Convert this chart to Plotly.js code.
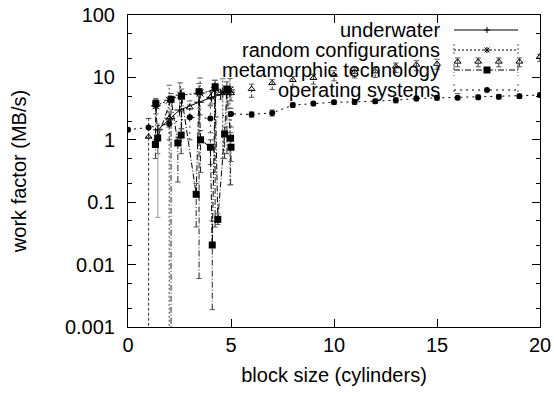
<!DOCTYPE html>
<html>
<head>
<meta charset="utf-8">
<script src="https://cdn.plot.ly/plotly-3.0.1.min.js"></script>
<style>html,body{margin:0;padding:0;background:#fff;}#chart{width:554px;height:393px;}</style>
</head>
<body>
<div id="chart"></div>
<script>
// ---------- data ----------
const xTicks = [0, 5, 10, 15, 20];
const xTickText = ['0', '5', '10', '15', '20'];
const yTicks = [0.001, 0.01, 0.1, 1, 10, 100];
const yTickText = ['0.001', '0.01', '0.1', '1', '10', '100'];
const yMinorTicks = [0.002, 0.005, 0.02, 0.05, 0.2, 0.5, 2, 5, 20, 50];

const seriesNames = ['underwater', 'random configurations', 'metamorphic technology', 'operating systems'];

// underwater
const uwX  = [1.45, 2.05, 2.5, 3.45, 4.05, 4.5, 4.95];
const uwY  = [1.45, 2.2, 3.0, 4.0, 4.8, 5.3, 5.8];
const uwLo = [0.057, 1.8, 2.4, 3.2, 3.8, 4.4, 4.8];
const uwHi = [1.8, 2.8, 8.2, 5.0, 6.0, 6.5, 7.0];

// random configurations
const rcX  = [1.35, 2.0, 2.55, 3.5, 4.2, 4.6, 4.95];
const rcY  = [3.5, 4.3, 5.2, 5.6, 6.2, 5.8, 6.3];
const rcLo = [2.6, 0.0005, 2.8, 2.5, 0.3, 0.5, 0.19];
const rcHi = [4.6, 7.5, 8.2, 9.8, 9.0, 9.5, 9.6];

// metamorphic technology
const mtX  = [1.33, 1.35, 1.44, 2.09, 2.42, 2.58, 2.6, 3.31, 3.45, 3.52, 4.0, 4.09, 4.23, 4.36, 4.69, 4.8, 4.98, 5.0];
const mtY  = [0.84, 3.8, 1.07, 4.45, 0.89, 1.19, 5.0, 0.134, 5.9, 1.0, 0.76, 0.0206, 7.1, 0.053, 1.24, 6.5, 1.06, 0.76];
const mtLo = [0.5, 3.2, 0.6, 0.0005, 0.21, 0.6, 1.5, 0.04, 0.006, 0.3, 0.4, 0.0019, 0.04, 0.044, 0.5, 0.6, 0.19, 0.45];
const mtHi = [1.0, 4.4, 1.4, 5.5, 1.1, 1.5, 6.5, 0.2, 8.0, 1.4, 1.0, 0.05, 9.0, 0.065, 1.6, 8.5, 1.3, 1.0];

// operating systems
const osX  = [0, 1, 2, 3, 4, 5, 6, 7, 8, 9, 10, 11, 12, 13, 14, 15, 16, 17, 18, 19, 20];
const osY  = [1.45, 1.58, 1.8, 2.3, 2.2, 2.6, 2.55, 2.7, 3.6, 3.8, 4.0, 4.05, 4.15, 4.3, 4.6, 4.7, 4.7, 4.8, 4.9, 5.0, 5.2];
const osLo = [1.4, 1.1, 1.0, 1.0, 1.3, 1.6, 2.3, 2.4, 3.3, 3.5, 3.7, 3.7, 3.8, 3.9, 4.2, 4.3, 4.4, 4.4, 4.5, 4.6, 4.8];
const osHi = [1.5, 2.2, 2.8, 3.6, 3.5, 3.2, 2.8, 3.0, 3.9, 4.1, 4.3, 4.4, 4.5, 4.7, 5.0, 5.1, 5.5, 5.2, 5.3, 5.4, 5.6];

// unlabelled triangle points
const trX  = [1, 2, 3, 4, 5, 6, 7, 8, 9, 10, 11, 12, 13, 14, 15, 16, 17, 18, 19, 20];
const trY  = [1.12, 2.2, 3.3, 4.8, 5.6, 6.5, 8.1, 9.1, 9.8, 11.0, 12.3, 12.5, 15.0, 16.0, 16.5, 17.9, 17.9, 17.9, 17.9, 21.5];
const trLo = [0.0005, 1.6, 2.4, 3.6, 4.2, 4.8, 6.4, 7.2, 7.8, 8.8, 9.8, 10.0, 12.0, 12.8, 13.5, 14.8, 14.8, 14.8, 14.8, 18.0];
const trHi = [2.2, 2.8, 4.2, 6.0, 7.0, 7.8, 9.2, 10.4, 11.2, 12.8, 14.2, 14.5, 17.0, 18.5, 19.5, 20.5, 20.5, 20.5, 20.5, 23.5];

// ---------- styling ----------
const FONT = 'Liberation Sans, Arial, Helvetica, sans-serif';
const M = {l: 128, r: 14, t: 15, b: 66};
const PW = 554 - M.l - M.r, PH = 393 - M.t - M.b;
const CAP = 0.13; // half cap width in x units

function bars(x, lo, hi) {
  const xs = [], ys = [];
  for (let i = 0; i < x.length; i++) { xs.push(x[i], x[i], null); ys.push(lo[i], hi[i], null); }
  return {xs, ys};
}
function caps(x, lo, hi) {
  const xs = [], ys = [];
  for (let i = 0; i < x.length; i++) {
    xs.push(x[i] - CAP, x[i] + CAP, null, x[i] - CAP, x[i] + CAP, null);
    ys.push(lo[i], lo[i], null, hi[i], hi[i], null);
  }
  return {xs, ys};
}
function barTrace(x, lo, hi, dash, color) {
  const b = bars(x, lo, hi);
  return {x: b.xs, y: b.ys, mode: 'lines', line: {color: color, width: 1, dash: dash}, hoverinfo: 'skip', showlegend: false};
}
function capTrace(x, lo, hi, color) {
  const c = caps(x, lo, hi);
  return {x: c.xs, y: c.ys, mode: 'lines', line: {color: color, width: 1}, hoverinfo: 'skip', showlegend: false};
}

const DASH_RC = '2px,2px';
const DASH_MT = '6px,2px,1px,2px';
const DASH_OS = '2px,4px';
const DASH_TR = '3px,2px';

const traces = [
  barTrace(trX, trLo, trHi, DASH_TR, '#333'), capTrace(trX, trLo, trHi, '#555'),
  barTrace(mtX, mtLo, mtHi, DASH_MT, '#222'), capTrace(mtX, mtLo, mtHi, '#555'),
  barTrace(rcX, rcLo, rcHi, DASH_RC, '#444'), capTrace(rcX, rcLo, rcHi, '#666'),
  barTrace(osX, osLo, osHi, DASH_OS, '#333'), capTrace(osX, osLo, osHi, '#555'),
  barTrace(uwX, uwLo, uwHi, 'solid', '#999'), capTrace(uwX, uwLo, uwHi, '#999'),
  {name: 'triangles', x: trX, y: trY, mode: 'markers', showlegend: false,
   marker: {symbol: 'triangle-up-open', size: 6, color: '#000', line: {width: 1, color: '#000'}}},
  {name: seriesNames[2], x: mtX, y: mtY, mode: 'lines+markers', showlegend: false,
   line: {color: '#000', width: 1, dash: DASH_MT}, marker: {symbol: 'square', size: 7, color: '#000'}},
  {name: seriesNames[1], x: rcX, y: rcY, mode: 'lines+markers', showlegend: false,
   line: {color: '#000', width: 1, dash: DASH_RC}, marker: {symbol: 'asterisk-open', size: 8, color: '#000', line: {width: 1, color: '#000'}}},
  {name: seriesNames[3], x: osX, y: osY, mode: 'lines+markers', showlegend: false,
   line: {color: '#000', width: 1, dash: DASH_OS}, marker: {symbol: 'circle', size: 6, color: '#000'}},
  {name: seriesNames[0], x: uwX, y: uwY, mode: 'lines+markers', showlegend: false,
   line: {color: '#000', width: 1, dash: 'solid'}, marker: {symbol: 'cross-thin-open', size: 7, color: '#000', line: {width: 1, color: '#000'}}}
];

// ---------- hand-made gnuplot style key ----------
const keyRowsPx = [30, 50, 70, 90];     // y pixel centres of key rows
const keyTextRightPx = 442;
const keySampleL = 454, keySampleR = 518, keyMarkPx = 487;
const px2x = p => (p - M.l) / PW;
const px2y = p => (393 - M.b - p) / PH;
const keyDashPx = ['solid', DASH_RC, DASH_MT, DASH_OS];

const annotations = seriesNames.map((n, i) => ({
  text: n, xref: 'paper', yref: 'paper', x: px2x(keyTextRightPx), y: px2y(keyRowsPx[i]),
  xanchor: 'right', yanchor: 'middle', showarrow: false, font: {family: FONT, size: 20, color: '#000'}
}));

const shapes = [];
seriesNames.forEach((n, i) => {
  const yc = keyRowsPx[i];
  shapes.push({type: 'line', xref: 'paper', yref: 'paper', x0: px2x(keySampleL), x1: px2x(keySampleR), y0: px2y(yc), y1: px2y(yc),
    line: {color: '#000', width: 1, dash: keyDashPx[i]}});
  if (i > 0) {
    [keySampleL, keySampleR].forEach(xp => {
      shapes.push({type: 'line', xref: 'paper', yref: 'paper', x0: px2x(xp), x1: px2x(xp), y0: px2y(yc - 6), y1: px2y(yc + 6),
        line: {color: '#555', width: 1, dash: keyDashPx[i]}});
    });
  }
});
// key markers
const ky = keyRowsPx;
shapes.push({type: 'line', xref: 'paper', yref: 'paper', x0: px2x(keyMarkPx - 3), x1: px2x(keyMarkPx + 3), y0: px2y(ky[0]), y1: px2y(ky[0]), line: {color: '#000', width: 1}});
shapes.push({type: 'line', xref: 'paper', yref: 'paper', x0: px2x(keyMarkPx), x1: px2x(keyMarkPx), y0: px2y(ky[0] - 3), y1: px2y(ky[0] + 3), line: {color: '#000', width: 1}});
[[-3, 0, 3, 0], [0, -3, 0, 3], [-2.5, -2.5, 2.5, 2.5], [-2.5, 2.5, 2.5, -2.5]].forEach(d => {
  shapes.push({type: 'line', xref: 'paper', yref: 'paper', x0: px2x(keyMarkPx + d[0]), x1: px2x(keyMarkPx + d[2]),
    y0: px2y(ky[1] + d[1]), y1: px2y(ky[1] + d[3]), line: {color: '#000', width: 1}});
});
shapes.push({type: 'rect', xref: 'paper', yref: 'paper', x0: px2x(keyMarkPx - 3.5), x1: px2x(keyMarkPx + 3.5), y0: px2y(ky[2] - 3.5), y1: px2y(ky[2] + 3.5), fillcolor: '#000', line: {width: 0}});
shapes.push({type: 'circle', xref: 'paper', yref: 'paper', x0: px2x(keyMarkPx - 3), x1: px2x(keyMarkPx + 3), y0: px2y(ky[3] - 3), y1: px2y(ky[3] + 3), fillcolor: '#000', line: {width: 0}});

const layout = {
  width: 554, height: 393,
  margin: M,
  paper_bgcolor: '#fff', plot_bgcolor: '#fff',
  font: {family: FONT, size: 20, color: '#000'},
  showlegend: false,
  xaxis: {
    range: [0, 20], tickmode: 'array', tickvals: xTicks, ticktext: xTickText,
    ticks: 'inside', ticklen: 8, tickcolor: '#000', showline: true, linecolor: '#000', linewidth: 1, mirror: 'ticks',
    showgrid: false, zeroline: false, tickfont: {family: FONT, size: 20}, ticklabelstandoff: 0,
    title: {text: 'block size (cylinders)', font: {family: FONT, size: 20}, standoff: 12}
  },
  yaxis: {
    type: 'log', range: [-3, 2], tickmode: 'array', tickvals: yTicks, ticktext: yTickText,
    ticks: 'inside', ticklen: 8, tickcolor: '#000', showline: true, linecolor: '#000', linewidth: 1, mirror: 'ticks',
    minor: {tickmode: 'array', tickvals: yMinorTicks, ticks: 'inside', ticklen: 4, tickcolor: '#000', showgrid: false},
    showgrid: false, zeroline: false, tickfont: {family: FONT, size: 20}, ticklabelstandoff: 8,
    title: {text: 'work factor (MB/s)', font: {family: FONT, size: 20}, standoff: 32}
  },
  annotations: annotations,
  shapes: shapes
};

Plotly.newPlot('chart', traces, layout, {staticPlot: true, displayModeBar: false});
</script>
</body>
</html>
